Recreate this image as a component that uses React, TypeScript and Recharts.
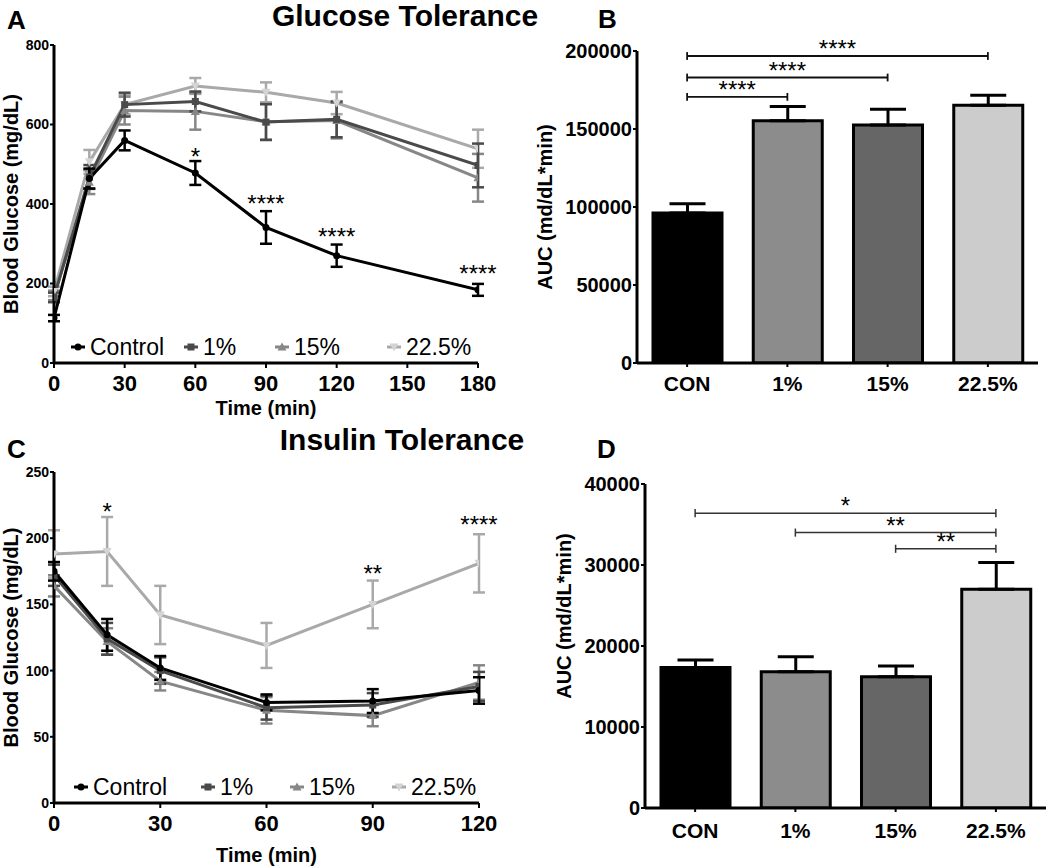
import React from 'react';
import {
  LineChart, Line, BarChart, Bar, Cell, XAxis, YAxis, ErrorBar,
  ReferenceLine, ReferenceDot, Legend,
} from 'recharts';

const FONT = '"Liberation Sans", Arial, Helvetica, sans-serif';

// ---------- Panel A: Glucose tolerance ----------
const gttTimes = [0, 15, 30, 60, 90, 120, 180];
const gttControl = [113, 464, 560, 478, 341, 270, 184];
const gttControlSem = [8, 25, 25, 30, 41, 28, 15];
const gtt1 = [165, 468, 650, 658, 606, 613, 497];
const gtt1Sem = [12, 30, 30, 25, 45, 45, 55];
const gtt15 = [170, 455, 635, 633, 607, 610, 466];
const gtt15Sem = [12, 30, 35, 46, 45, 45, 60];
const gtt225 = [180, 506, 650, 697, 681, 654, 539];
const gtt225Sem = [12, 30, 25, 20, 25, 28, 48];
const gttXTicks = [0, 30, 60, 90, 120, 150, 180];
const gttYTicks = [0, 200, 400, 600, 800];
const gttStarTimes = [60, 90, 120, 180];
const gttStarLevels = [531, 414, 329, 236];
const gttStarTexts = ['*', '****', '****', '****'];

// ---------- Panel B: GTT AUC ----------
const groups = ['CON', '1%', '15%', '22.5%'];
const gttAucMean = [96200, 155300, 152500, 165300];
const gttAucSem = [5900, 9200, 10200, 6400];
const gttAucYTicks = [0, 50000, 100000, 150000, 200000];
const gttBrFrom = ['CON', 'CON', 'CON'];
const gttBrTo = ['22.5%', '15%', '1%'];
const gttBrLevel = [196800, 183000, 170600];
const gttBrText = ['****', '****', '****'];

// ---------- Panel C: Insulin tolerance ----------
const ittTimes = [0, 15, 30, 60, 90, 120];
const ittControl = [175, 127, 102, 76, 77, 85];
const ittControlSem = [7, 12, 9, 6, 9, 10];
const itt1 = [172, 124, 100, 72, 74, 88];
const itt1Sem = [8, 12, 10, 9, 9, 11];
const itt15 = [164, 122, 92, 70, 66, 91];
const itt15Sem = [8, 10, 7, 10, 8, 13];
const itt225 = [188, 190, 142, 119, 150, 181];
const itt225Sem = [18, 26, 22, 17, 18, 22];
const ittXTicks = [0, 30, 60, 90, 120];
const ittYTicks = [0, 50, 100, 150, 200, 250];
const ittStarTimes = [15, 90, 120];
const ittStarLevels = [223.6, 176.6, 213.6];
const ittStarTexts = ['*', '**', '****'];

// ---------- Panel D: ITT AUC ----------
const ittAucMean = [17360, 16825, 16206, 27010];
const ittAucSem = [910, 1855, 1320, 3300];
const ittAucYTicks = [0, 10000, 20000, 30000, 40000];
const ittBrFrom = ['CON', '1%', '15%'];
const ittBrTo = ['22.5%', '22.5%', '22.5%'];
const ittBrLevel = [36400, 34000, 32000];
const ittBrText = ['*', '**', '**'];

// ---------- styles ----------
type Series = { key: string; name: string; color: string; marker: string; markerFill: string };
const SERIES: Series[] = [
  { key: 'ctrl', name: 'Control', color: '#000000', marker: 'circle', markerFill: '#000000' },
  { key: 'p1', name: '1%', color: '#4a4a4a', marker: 'square', markerFill: '#4a4a4a' },
  { key: 'p15', name: '15%', color: '#878787', marker: 'tri', markerFill: '#878787' },
  { key: 'p225', name: '22.5%', color: '#a9a9a9', marker: 'itri', markerFill: '#d4d4d4' },
];
const BAR_FILLS = ['#000000', '#8c8c8c', '#666666', '#cccccc'];

function markerShape(kind: string, cx: number, cy: number, fill: string, s: number, key?: any) {
  if (cx == null || cy == null || isNaN(cx) || isNaN(cy)) return <g key={key} />;
  if (kind === 'circle') return <circle key={key} cx={cx} cy={cy} r={s} fill={fill} />;
  if (kind === 'square') return <rect key={key} x={cx - s} y={cy - s} width={2 * s} height={2 * s} fill={fill} />;
  if (kind === 'tri')
    return <polygon key={key} points={`${cx},${cy - s - 1} ${cx + s + 1},${cy + s} ${cx - s - 1},${cy + s}`} fill={fill} />;
  return <polygon key={key} points={`${cx},${cy + s + 1} ${cx + s + 1},${cy - s} ${cx - s - 1},${cy - s}`} fill={fill} />;
}

function makeRows(times: number[], vals: number[][], sems: number[][]) {
  return times.map((t, i) => {
    const r: any = { t };
    SERIES.forEach((s, k) => {
      r[s.key] = vals[k][i];
      r[s.key + 'Err'] = sems[k][i];
    });
    return r;
  });
}

const gttRows = makeRows(gttTimes, [gttControl, gtt1, gtt15, gtt225], [gttControlSem, gtt1Sem, gtt15Sem, gtt225Sem]);
const ittRows = makeRows(ittTimes, [ittControl, itt1, itt15, itt225], [ittControlSem, itt1Sem, itt15Sem, itt225Sem]);

const XTitle = (p: any) => {
  const vb = p.viewBox || { x: 0, y: 0, width: 0, height: 0 };
  return (
    <text x={vb.x + vb.width / 2} y={vb.y + p.ty} textAnchor="middle" fontFamily={FONT} fontWeight={700} fontSize={20} fill="#000">
      {p.text}
    </text>
  );
};

const YTitle = (p: any) => {
  const vb = p.viewBox || { x: 0, y: 0, width: 0, height: 0 };
  const cx = vb.x + p.tx;
  const cy = vb.y + vb.height / 2 + (p.ty || 0);
  return (
    <text x={cx} y={cy} transform={`rotate(-90, ${cx}, ${cy})`} textAnchor="middle" dominantBaseline="central"
      fontFamily={FONT} fontWeight={700} fontSize={20} fill="#000">
      {p.text}
    </text>
  );
};

const LegendRow = ({ lefts }: { lefts: number[] }) => (
  <div style={{ position: 'relative', height: 28, width: '100%', fontFamily: FONT }}>
    {SERIES.map((s, i) => (
      <div key={s.key} style={{ position: 'absolute', left: lefts[i], top: 0, height: 28, display: 'flex', alignItems: 'center', whiteSpace: 'nowrap' }}>
        <svg width={18} height={14} style={{ marginRight: 3 }}>
          <line x1={2} y1={7} x2={16} y2={7} stroke={s.color} strokeWidth={3} />
          {markerShape(s.marker, 9, 7, s.markerFill, 3.5)}
        </svg>
        <span style={{ fontSize: 23, color: '#000', lineHeight: '28px' }}>{s.name}</span>
      </div>
    ))}
  </div>
);

function LinePanel(props: any) {
  const { rows, xMax, xTicks, yMax, yTicks, starTimes, starLevels, starTexts, width, height, margin, xAxisHeight, xTickGap, xTitleY, legendTop, legendLefts } = props;
  const drawOrder = [...SERIES].reverse();
  return (
    <LineChart width={width} height={height} data={rows} margin={margin}>
      <XAxis dataKey="t" type="number" domain={[0, xMax]} ticks={xTicks} interval={0} allowDataOverflow height={xAxisHeight}
        axisLine={{ stroke: '#000', strokeWidth: 3 }} tickLine={{ stroke: '#000', strokeWidth: 2 }} tickSize={5} tickMargin={xTickGap}
        tick={{ fontSize: 22, fontWeight: 700, fill: '#000', fontFamily: FONT }}
        label={<XTitle text="Time (min)" ty={xTitleY} />} />
      <YAxis type="number" domain={[0, yMax]} ticks={yTicks} interval={0} allowDataOverflow width={54}
        axisLine={{ stroke: '#000', strokeWidth: 3 }} tickLine={{ stroke: '#000', strokeWidth: 2 }} tickSize={4} tickMargin={1}
        tick={{ fontSize: 14, fontWeight: 700, fill: '#000', fontFamily: FONT }}
        label={<YTitle text="Blood Glucose (mg/dL)" tx={11} />} />
      {drawOrder.map((s) => (
        <Line key={s.key} dataKey={s.key} name={s.name} type="linear" stroke={s.color} strokeWidth={3} isAnimationActive={false}
          activeDot={false}
          dot={(p: any) => markerShape(s.marker, p.cx, p.cy, s.markerFill, 3.5, `${s.key}-${p.index}`)}>
          <ErrorBar dataKey={s.key + 'Err'} width={6} strokeWidth={2.5} stroke={s.color} isAnimationActive={false} />
        </Line>
      ))}
      {starTimes.map((t: number, i: number) => (
        <ReferenceDot key={'star' + i} x={t} y={starLevels[i]} r={0} ifOverflow="visible"
          shape={(p: any) => (
            <text x={p.cx} y={p.cy} dy="0.55em" textAnchor="middle" fontSize={24} fontFamily={FONT} fill="#000">{starTexts[i]}</text>
          )} />
      ))}
      <Legend verticalAlign="middle" align="center" layout="horizontal"
        wrapperStyle={{ position: 'absolute', left: 0, top: legendTop, width: width, height: 28 }}
        content={() => <LegendRow lefts={legendLefts} />} />
    </LineChart>
  );
}

function AucPanel(props: any) {
  const { means, sems, yMax, yTicks, brFrom, brTo, brLevel, brText, capHalf, width, height, margin, yAxisWidth, xAxisHeight, xTickGap, yTitleX, yTitleY, bracketColor, bracketWidth } = props;
  const rows = groups.map((g, i) => ({ g, v: means[i], e: [0, sems[i]] }));
  return (
    <BarChart width={width} height={height} data={rows} margin={margin}>
      <XAxis dataKey="g" interval={0} height={xAxisHeight}
        axisLine={{ stroke: '#000', strokeWidth: 3 }} tickLine={{ stroke: '#000', strokeWidth: 2 }} tickSize={4} tickMargin={xTickGap}
        tick={{ fontSize: 21, fontWeight: 700, fill: '#000', fontFamily: FONT }} />
      <YAxis type="number" domain={[0, yMax]} ticks={yTicks} interval={0} allowDataOverflow width={yAxisWidth}
        axisLine={{ stroke: '#000', strokeWidth: 3 }} tickLine={{ stroke: '#000', strokeWidth: 2 }} tickSize={4} tickMargin={1}
        tick={{ fontSize: 20, fontWeight: 700, fill: '#000', fontFamily: FONT }}
        label={<YTitle text="AUC (md/dL*min)" tx={yTitleX} ty={yTitleY} />} />
      <Bar dataKey="v" barSize={69} stroke="#000" strokeWidth={3} isAnimationActive={false}>
        {rows.map((r, i) => <Cell key={r.g} fill={BAR_FILLS[i]} />)}
        <ErrorBar dataKey="e" width={18} strokeWidth={3} stroke="#000" isAnimationActive={false} />
      </Bar>
      {brFrom.map((f: string, i: number) => (
        <ReferenceLine key={'bh' + i} segment={[{ x: f, y: brLevel[i] }, { x: brTo[i], y: brLevel[i] }]}
          stroke={bracketColor} strokeWidth={bracketWidth} ifOverflow="visible"
          label={{ value: brText[i], position: 'top', offset: -1, fontSize: 24, fill: '#000', fontFamily: FONT }} />
      ))}
      {brFrom.map((f: string, i: number) => (
        <ReferenceLine key={'bl' + i} segment={[{ x: f, y: brLevel[i] - capHalf }, { x: f, y: brLevel[i] + capHalf }]}
          stroke={bracketColor} strokeWidth={bracketWidth} ifOverflow="visible" />
      ))}
      {brFrom.map((f: string, i: number) => (
        <ReferenceLine key={'br' + i} segment={[{ x: brTo[i], y: brLevel[i] - capHalf }, { x: brTo[i], y: brLevel[i] + capHalf }]}
          stroke={bracketColor} strokeWidth={bracketWidth} ifOverflow="visible" />
      ))}
    </BarChart>
  );
}

export default function App() {
  return (
    <div style={{ position: 'absolute', left: 0, top: 0, width: 1050, height: 867, background: '#fff', fontFamily: FONT }}>
      <div style={{ position: 'absolute', left: 0, top: 0 }}>
        <LinePanel rows={gttRows} xMax={180} xTicks={gttXTicks} yMax={800} yTicks={gttYTicks}
          starTimes={gttStarTimes} starLevels={gttStarLevels} starTexts={gttStarTexts}
          width={500} height={430} margin={{ top: 45, right: 22, bottom: 7, left: 0 }} xAxisHeight={60} xTickGap={7} xTitleY={52}
          legendTop={333} legendLefts={[69, 182, 273, 385]} />
      </div>
      <div style={{ position: 'absolute', left: 520, top: 0 }}>
        <AucPanel means={gttAucMean} sems={gttAucSem} yMax={200000} yTicks={gttAucYTicks}
          brFrom={gttBrFrom} brTo={gttBrTo} brLevel={gttBrLevel} brText={gttBrText} capHalf={2500}
          width={530} height={430} margin={{ top: 51, right: 12, bottom: 7, left: 0 }} yAxisWidth={117} xAxisHeight={60} xTickGap={9}
          yTitleX={25} yTitleY={0} bracketColor="#111" bracketWidth={1.8} />
      </div>
      <div style={{ position: 'absolute', left: 0, top: 430 }}>
        <LinePanel rows={ittRows} xMax={120} xTicks={ittXTicks} yMax={250} yTicks={ittYTicks}
          starTimes={ittStarTimes} starLevels={ittStarLevels} starTexts={ittStarTexts}
          width={500} height={437} margin={{ top: 42, right: 21, bottom: 7, left: 0 }} xAxisHeight={57} xTickGap={7} xTitleY={59}
          legendTop={343} legendLefts={[72, 199, 288, 390]} />
      </div>
      <div style={{ position: 'absolute', left: 520, top: 430 }}>
        <AucPanel means={ittAucMean} sems={ittAucSem} yMax={40000} yTicks={ittAucYTicks}
          brFrom={ittBrFrom} brTo={ittBrTo} brLevel={ittBrLevel} brText={ittBrText} capHalf={500}
          width={530} height={437} margin={{ top: 54, right: 4, bottom: 7, left: 0 }} yAxisWidth={125} xAxisHeight={52} xTickGap={11}
          yTitleX={44} yTitleY={-30} bracketColor="#333" bracketWidth={1.5} />
      </div>
      <svg width={1050} height={867} style={{ position: 'absolute', left: 0, top: 0, pointerEvents: 'none' }}>
        <g fontFamily={FONT} fontWeight={700} fill="#000">
          <text x={7} y={29} fontSize={26}>A</text>
          <text x={405} y={26} fontSize={30} textAnchor="middle">Glucose Tolerance</text>
          <text x={598} y={28} fontSize={26}>B</text>
          <text x={7} y={458} fontSize={26}>C</text>
          <text x={402} y={450} fontSize={30} textAnchor="middle">Insulin Tolerance</text>
          <text x={597} y={458} fontSize={26}>D</text>
        </g>
      </svg>
    </div>
  );
}
